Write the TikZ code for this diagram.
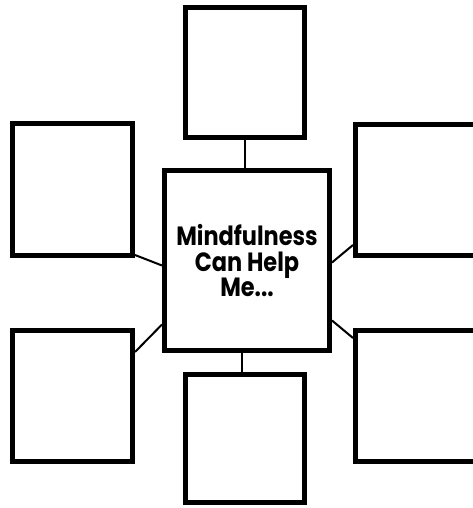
\documentclass[tikz,border=0pt]{standalone}
\usepackage{fontspec}
\usepackage{graphicx}
\newfontfamily\pop{Poppins}
\begin{document}
\begin{tikzpicture}[x=1pt,y=-1pt,
  frame/.style={draw=black,line width=5pt,fill=white,inner sep=0pt,
    minimum width=120pt,minimum height=132pt},
  link/.style={draw=black,line width=2pt}]
\useasboundingbox (0,0) rectangle (473,508);
\clip (0,0) rectangle (473,508);
\fill[white] (0,0) rectangle (473,508);
\node[frame,minimum width=165pt,minimum height=180pt] (c) at (247,260.5) {};
\node[inner sep=0pt,font=\pop\bfseries\fontsize{22}{21}\selectfont] (ct) at (247,264)
  {\scalebox{1.02}[1.2]{\begin{tabular}{@{}c@{}}Mindfulness\\[-1pt]Can Help\\[-1pt]Me...\end{tabular}}};
\node[frame,minimum width=119pt,minimum height=130pt] (t) at (245,72.5) {};
\node[frame,minimum width=119pt,minimum height=128pt] (b) at (245,438.5) {};
\node[frame] (ul) at (72.5,189.5) {};
\node[frame,minimum height=131pt] (ur) at (415.5,190) {};
\node[frame,minimum height=131pt] (ll) at (72.5,396) {};
\node[frame,minimum height=131pt] (lr) at (415.5,396) {};
\draw[link] (t.south) -- (t.south |- c.north);
\draw[link] ([xshift=-3pt]b.north) -- ([xshift=-3pt]b.north |- c.south);
\draw[link] ([yshift=3pt]ul.south east) -- ([yshift=-5pt]c.west);
\draw[link] ([yshift=-64pt]c.west) -- ([yshift=-24pt]ll.north east);
\draw[link] ([yshift=-2pt]c.east) -- ([yshift=13pt]ur.south west);
\draw[link] ([yshift=-60pt]c.east) -- ([yshift=-10pt]lr.north west);
\end{tikzpicture}
\end{document}
